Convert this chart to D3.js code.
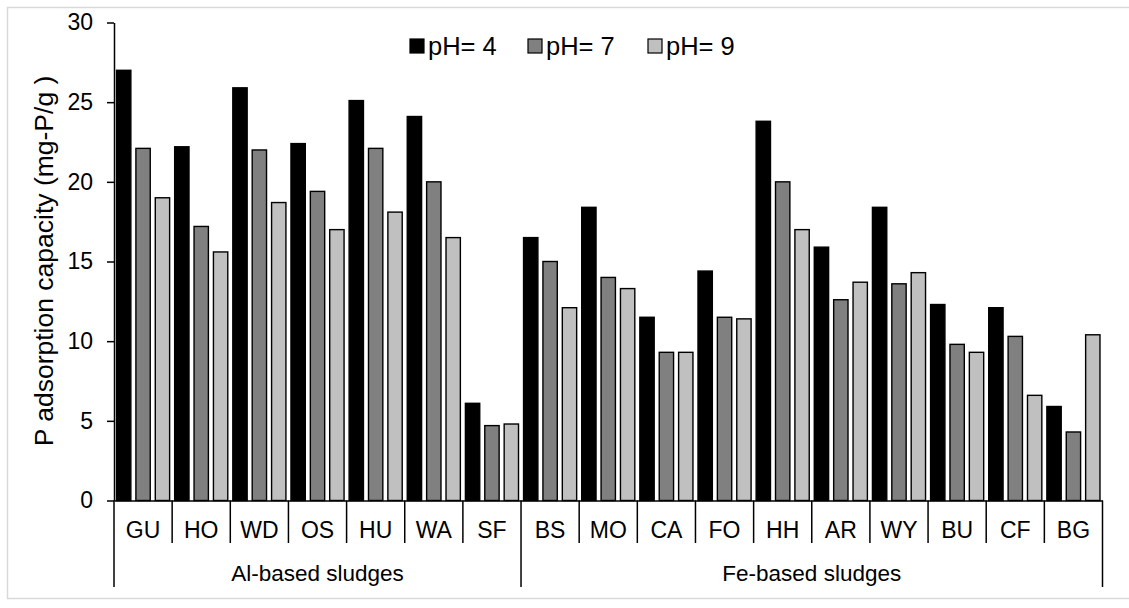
<!DOCTYPE html>
<html>
<head>
<meta charset="utf-8">
<script src="https://cdn.jsdelivr.net/npm/d3@7"></script>
<style>
  html, body { margin: 0; padding: 0; background: #fff; }
  svg { display: block; font-family: "Liberation Sans", Arial, sans-serif; }
</style>
</head>
<body>
<svg id="chart" width="1129" height="608"></svg>
<script>
// data
var categories = ["GU", "HO", "WD", "OS", "HU", "WA", "SF",
                  "BS", "MO", "CA", "FO", "HH", "AR", "WY", "BU", "CF", "BG"];
var groupNames = ["Al-based sludges", "Fe-based sludges"];
var groupFirst = ["GU", "BS"];
var groupLast = ["SF", "BG"];
var seriesNames = ["pH= 4", "pH= 7", "pH= 9"];
var seriesColors = ["#000000", "#808080", "#c0c0c0"];
var ph4 = [27.0, 22.2, 25.9, 22.4, 25.1, 24.1, 6.1,
           16.5, 18.4, 11.5, 14.4, 23.8, 15.9, 18.4, 12.3, 12.1, 5.9];
var ph7 = [22.1, 17.2, 22.0, 19.4, 22.1, 20.0, 4.7,
           15.0, 14.0, 9.3, 11.5, 20.0, 12.6, 13.6, 9.8, 10.3, 4.3];
var ph9 = [19.0, 15.6, 18.7, 17.0, 18.1, 16.5, 4.8,
           12.1, 13.3, 9.3, 11.4, 17.0, 13.7, 14.3, 9.3, 6.6, 10.4];
var yTicks = [0, 5, 10, 15, 20, 25, 30];

var svg = d3.select("#chart");

// light frame round the chart area
svg.append("rect")
  .attr("x", 7.5).attr("y", 7.5)
  .attr("width", 1140).attr("height", 591)
  .attr("fill", "none").attr("stroke", "#d9d9d9").attr("stroke-width", 1.5);

var x0 = d3.scaleBand().domain(categories).range([114, 1102.5]).padding(0);
var x1 = d3.scaleBand().domain(seriesNames).range([0, x0.bandwidth()])
  .paddingInner(0.26).paddingOuter(0.13);
var y = d3.scaleLinear().domain([0, 30]).range([500.5, 22.5]);
var color = d3.scaleOrdinal().domain(seriesNames).range(seriesColors);

var values = [ph4, ph7, ph9];
var rows = categories.map(function(c, i) {
  return { cat: c, vals: seriesNames.map(function(s, j) { return { s: s, v: values[j][i] }; }) };
});

// bars
var cat = svg.append("g").selectAll("g").data(rows).enter().append("g")
  .attr("transform", function(d) { return "translate(" + x0(d.cat) + ",0)"; });
cat.selectAll("rect").data(function(d) { return d.vals; }).enter().append("rect")
  .attr("x", function(d) { return x1(d.s); })
  .attr("y", function(d) { return y(d.v); })
  .attr("width", x1.bandwidth())
  .attr("height", function(d) { return y(0) - y(d.v); })
  .attr("fill", function(d) { return color(d.s); })
  .attr("stroke", "#000").attr("stroke-width", 1.4);

// y axis
var yAxis = d3.axisLeft(y).tickValues(yTicks).tickSize(7).tickSizeOuter(0).tickPadding(14);
var gy = svg.append("g").attr("transform", "translate(114,0)").call(yAxis);
gy.select(".domain").attr("stroke-width", 1.5);
gy.selectAll(".tick line").attr("stroke-width", 1.5);
gy.selectAll("text").style("font-size", "23px").attr("fill", "#000");

// x axis: labels and separator lines
var xAxis = d3.axisBottom(x0).tickSize(0).tickSizeOuter(0);
var gx = svg.append("g").attr("transform", "translate(0,500.5)").call(xAxis);
gx.select(".domain").attr("stroke-width", 1.5);
gx.selectAll("text").style("font-size", "23px").attr("fill", "#000")
  .attr("y", 37.5).attr("dy", 0);

var bounds = categories.map(function(c) { return c; }).concat(["end"]);
svg.append("g").selectAll("line").data(bounds).enter().append("line")
  .attr("x1", function(d) { return d === "end" ? x0.range()[1] : x0(d); })
  .attr("x2", function(d) { return d === "end" ? x0.range()[1] : x0(d); })
  .attr("y1", 500.5)
  .attr("y2", function(d) {
    return (d === "end" || groupFirst.indexOf(d) >= 0) ? 587 : 543;
  })
  .attr("stroke", "#000").attr("stroke-width", 1.5);

// group labels
svg.append("g").selectAll("text").data(groupNames).enter().append("text")
  .attr("x", function(d, i) {
    return (x0(groupFirst[i]) + x0(groupLast[i]) + x0.bandwidth()) / 2;
  })
  .attr("y", 581)
  .attr("text-anchor", "middle")
  .style("font-size", "22.5px")
  .text(function(d) { return d; });

// y title
svg.append("text")
  .attr("transform", "translate(53,261) rotate(-90)")
  .attr("text-anchor", "middle")
  .style("font-size", "26.5px")
  .text("P adsorption capacity (mg-P/g )");

// legend
var legendX = [410, 528, 648];
var lg = svg.append("g").selectAll("g").data(seriesNames).enter().append("g")
  .attr("transform", function(d, i) { return "translate(" + legendX[i] + ",39)"; });
lg.append("rect")
  .attr("width", 14).attr("height", 14)
  .attr("fill", function(d) { return color(d); })
  .attr("stroke", "#000").attr("stroke-width", 1.2);
lg.append("text")
  .attr("x", 18).attr("y", 16)
  .style("font-size", "25.5px")
  .text(function(d) { return d; });
</script>
</body>
</html>
